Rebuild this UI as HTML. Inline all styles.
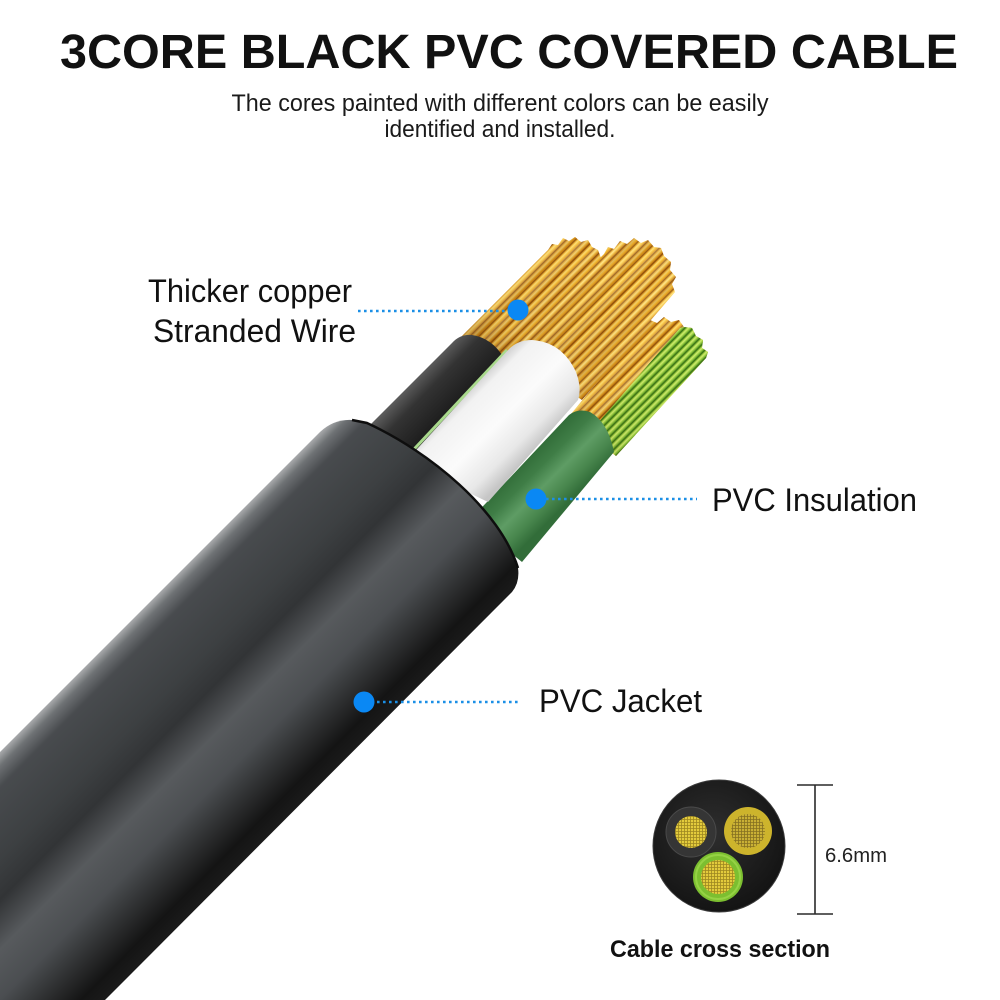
<!DOCTYPE html>
<html>
<head>
<meta charset="utf-8">
<style>
  html,body{margin:0;padding:0;background:#ffffff;}
  svg{display:block;}
  text{font-family:"Liberation Sans", Arial, sans-serif;}
</style>
</head>
<body>
<svg width="1000" height="1000" viewBox="0 0 1000 1000" xmlns="http://www.w3.org/2000/svg">
  <defs>
    <linearGradient id="cu" gradientUnits="userSpaceOnUse" x1="0" y1="0" x2="4.6" y2="4.6" spreadMethod="repeat">
      <stop offset="0" stop-color="#ffe37a"/>
      <stop offset="0.25" stop-color="#f7bb2c"/>
      <stop offset="0.48" stop-color="#d08410"/>
      <stop offset="0.62" stop-color="#7a3e06"/>
      <stop offset="0.8" stop-color="#e8a424"/>
      <stop offset="1" stop-color="#ffe37a"/>
    </linearGradient>
    <linearGradient id="cu2" gradientUnits="userSpaceOnUse" x1="0" y1="0" x2="10.3" y2="10.3" spreadMethod="repeat">
      <stop offset="0" stop-color="#fff4c0" stop-opacity="0.3"/>
      <stop offset="0.45" stop-color="#8a4406" stop-opacity="0.25"/>
      <stop offset="0.7" stop-color="#ffd870" stop-opacity="0.15"/>
      <stop offset="1" stop-color="#fff4c0" stop-opacity="0.3"/>
    </linearGradient>
    <linearGradient id="cuShade" gradientUnits="userSpaceOnUse" x1="500" y1="400" x2="620" y2="280">
      <stop offset="0" stop-color="#5a2a00" stop-opacity="0.4"/>
      <stop offset="0.35" stop-color="#5a2a00" stop-opacity="0.08"/>
      <stop offset="1" stop-color="#5a2a00" stop-opacity="0"/>
    </linearGradient>
    <linearGradient id="gr" gradientUnits="userSpaceOnUse" x1="0" y1="0" x2="4.2" y2="4.2" spreadMethod="repeat">
      <stop offset="0" stop-color="#d2ee70"/>
      <stop offset="0.3" stop-color="#8cc63a"/>
      <stop offset="0.6" stop-color="#2f6a12"/>
      <stop offset="0.82" stop-color="#9ccc3f"/>
      <stop offset="1" stop-color="#d2ee70"/>
    </linearGradient>
    <linearGradient id="jk" gradientUnits="userSpaceOnUse" x1="300" y1="452" x2="476.5" y2="628.5">
      <stop offset="0" stop-color="#a8aaac"/>
      <stop offset="0.04" stop-color="#6e7174"/>
      <stop offset="0.1" stop-color="#484b4e"/>
      <stop offset="0.3" stop-color="#3d4042"/>
      <stop offset="0.42" stop-color="#323436"/>
      <stop offset="0.56" stop-color="#575a5d"/>
      <stop offset="0.7" stop-color="#4b4e51"/>
      <stop offset="0.84" stop-color="#2a2b2c"/>
      <stop offset="0.93" stop-color="#141414"/>
      <stop offset="1" stop-color="#1b1b1b"/>
    </linearGradient>
    <linearGradient id="bk" gradientUnits="userSpaceOnUse" x1="397" y1="398" x2="432" y2="432">
      <stop offset="0" stop-color="#5c5c5c"/>
      <stop offset="0.35" stop-color="#333333"/>
      <stop offset="1" stop-color="#1c1c1c"/>
    </linearGradient>
    <linearGradient id="wh" gradientUnits="userSpaceOnUse" x1="429" y1="429" x2="492" y2="492">
      <stop offset="0" stop-color="#d2d2d2"/>
      <stop offset="0.12" stop-color="#f2f2f2"/>
      <stop offset="0.5" stop-color="#fbfbfb"/>
      <stop offset="0.82" stop-color="#e8e8e8"/>
      <stop offset="1" stop-color="#c6c6c6"/>
    </linearGradient>
    <linearGradient id="gn" gradientUnits="userSpaceOnUse" x1="490" y1="490" x2="535" y2="535">
      <stop offset="0" stop-color="#2f6a36"/>
      <stop offset="0.3" stop-color="#3f7d46"/>
      <stop offset="0.55" stop-color="#5e9c64"/>
      <stop offset="0.78" stop-color="#4a884f"/>
      <stop offset="1" stop-color="#326d39"/>
    </linearGradient>
    <radialGradient id="xs" cx="0.45" cy="0.4" r="0.6">
      <stop offset="0" stop-color="#2e2e2e"/>
      <stop offset="1" stop-color="#141414"/>
    </radialGradient>
    <pattern id="grid" width="3" height="3" patternUnits="userSpaceOnUse">
      <rect width="3" height="3" fill="#e3cb3c"/>
      <path d="M0 0.4H3M0.4 0V3" stroke="#9c8620" stroke-width="0.8"/>
    </pattern>
    <pattern id="grid2" width="3" height="3" patternUnits="userSpaceOnUse">
      <rect width="3" height="3" fill="#c9b035"/>
      <path d="M0 0.4H3M0.4 0V3" stroke="#857020" stroke-width="0.8"/>
    </pattern>
  </defs>

  <text x="60" y="68" font-size="48.5" font-weight="bold" fill="#111" textLength="898" lengthAdjust="spacingAndGlyphs">3CORE BLACK PVC COVERED CABLE</text>
  <text x="500" y="111" font-size="24.5" fill="#1a1a1a" text-anchor="middle" textLength="537" lengthAdjust="spacingAndGlyphs">The cores painted with different colors can be easily</text>
  <text x="500" y="137" font-size="24.5" fill="#1a1a1a" text-anchor="middle" textLength="231" lengthAdjust="spacingAndGlyphs">identified and installed.</text>

  <g>
    <path d="M508,350 L604,254 L608,247 L614,249 L620,241 L627,244 L634,238 L641,243 L648,240 L654,247 L661,248 L664,256 L671,262 L670,270 L676,277 L672,284 L675,292 L582,400 Z" fill="url(#cu)"/>
    <path d="M508,350 L604,254 L608,247 L614,249 L620,241 L627,244 L634,238 L641,243 L648,240 L654,247 L661,248 L664,256 L671,262 L670,270 L676,277 L672,284 L675,292 L582,400 Z" fill="url(#cu2)"/>
    <path d="M508,350 L604,254 L608,247 L614,249 L620,241 L627,244 L634,238 L641,243 L648,240 L654,247 L661,248 L664,256 L671,262 L670,270 L676,277 L672,284 L675,292 L582,400 Z" fill="url(#cuShade)"/>
    <path d="M456,342 L548,250 L552,244 L558,245 L563,238 L569,241 L575,237 L581,242 L588,240 L592,247 L598,250 L601,258 L506,362 Z" fill="url(#cu)"/>
    <path d="M456,342 L548,250 L552,244 L558,245 L563,238 L569,241 L575,237 L581,242 L588,240 L592,247 L598,250 L601,258 L506,362 Z" fill="url(#cu2)"/>
    <path d="M456,342 L548,250 L552,244 L558,245 L563,238 L569,241 L575,237 L581,242 L588,240 L592,247 L598,250 L601,258 L506,362 Z" fill="url(#cuShade)"/>
    <path d="M566,420 L644,326 L650,320 L657,323 L664,317 L671,322 L679,320 L684,327 L692,328 L696,336 L703,340 L702,348 L708,352 L706,358 L616,456 Z" fill="url(#cu)"/>
    <path d="M566,420 L644,326 L650,320 L657,323 L664,317 L671,322 L679,320 L684,327 L692,328 L696,336 L703,340 L702,348 L708,352 L706,358 L616,456 Z" fill="url(#cu2)"/>
    <path d="M590,432 L680,328 L684,327 L692,328 L696,336 L703,340 L702,348 L708,352 L706,358 L616,456 Z" fill="url(#gr)"/>
    <path d="M566,420 L644,326 L706,358 L616,456 Z" fill="url(#cuShade)" opacity="0.6"/>
  </g>

  <path d="M355,440 L452,343 Q460,334 472,335 Q492,338 504,358 L420,452 Z" fill="url(#bk)"/>
  <path d="M470,520 L569,415 Q578,408 590,412 Q608,422 614,452 L522,562 Z" fill="url(#gn)"/>
  <path d="M402,462 L507,350" stroke="#a9d98c" stroke-width="3"/>
  <path d="M405,462 L509,349 Q518,340 532,340 Q562,342 576,372 Q582,388 578,400 L488,502 Z" fill="url(#wh)"/>

  <path d="M0,752 L320,432 Q334,419 352,420 L367,423 C430,452 500,510 518,568 Q520,582 512,592 L105,1000 L0,1000 Z" fill="url(#jk)"/>
  <path d="M352,420 L367,423 C430,452 500,510 518,568" fill="none" stroke="#0e0e0e" stroke-width="2.5"/>

  <g stroke="#1b8fe6" stroke-width="2.6" stroke-dasharray="2.6 3.4" fill="none">
    <line x1="358" y1="311" x2="510" y2="311"/>
    <line x1="546" y1="499" x2="697" y2="499"/>
    <line x1="377" y1="702" x2="519" y2="702"/>
  </g>
  <g fill="#0a88f4">
    <circle cx="518" cy="310" r="10.5"/>
    <circle cx="536" cy="499" r="10.5"/>
    <circle cx="364" cy="702" r="10.5"/>
  </g>

  <text x="148" y="302" font-size="32" fill="#111" textLength="204" lengthAdjust="spacingAndGlyphs">Thicker copper</text>
  <text x="153" y="342" font-size="32" fill="#111" textLength="203" lengthAdjust="spacingAndGlyphs">Stranded Wire</text>
  <text x="712" y="511" font-size="32" fill="#111" textLength="205" lengthAdjust="spacingAndGlyphs">PVC Insulation</text>
  <text x="539" y="712" font-size="32" fill="#111" textLength="163" lengthAdjust="spacingAndGlyphs">PVC Jacket</text>

  <circle cx="719" cy="846" r="66" fill="url(#xs)" stroke="#3a3a3a" stroke-width="1"/>
  <circle cx="691" cy="832" r="25" fill="#353535" stroke="#4a4a4a" stroke-width="1"/>
  <circle cx="691" cy="832" r="16" fill="url(#grid)"/>
  <circle cx="748" cy="831" r="24" fill="#cdb42c"/>
  <circle cx="748" cy="831" r="17" fill="url(#grid2)"/>
  <circle cx="718" cy="877" r="25" fill="#7cbf30"/>
  <circle cx="718" cy="877" r="22" fill="none" stroke="#95d244" stroke-width="2"/>
  <circle cx="718" cy="877" r="17" fill="url(#grid)"/>

  <g stroke="#2a2a2a" stroke-width="1.6">
    <line x1="815" y1="785" x2="815" y2="914"/>
    <line x1="797" y1="785" x2="833" y2="785"/>
    <line x1="797" y1="914" x2="833" y2="914"/>
  </g>
  <text x="825" y="862" font-size="20.5" fill="#222" textLength="62" lengthAdjust="spacingAndGlyphs">6.6mm</text>
  <text x="610" y="957" font-size="24" font-weight="bold" fill="#111" textLength="220" lengthAdjust="spacingAndGlyphs">Cable cross section</text>
</svg>
</body>
</html>
